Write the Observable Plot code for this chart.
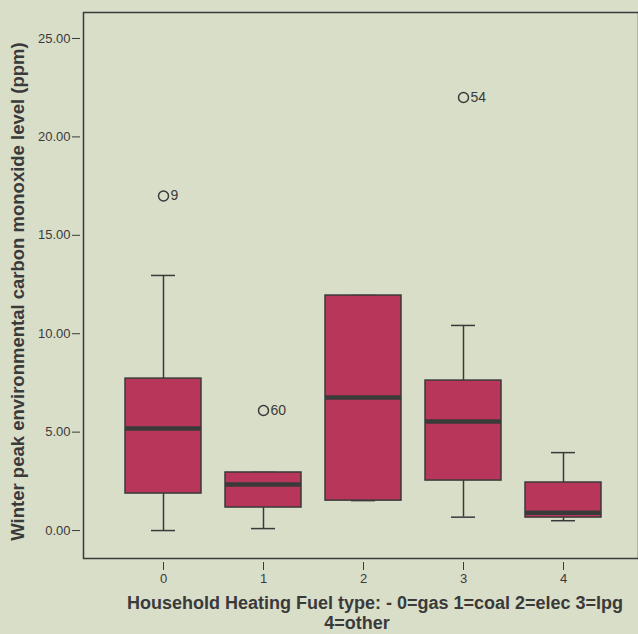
<!DOCTYPE html>
<html>
<head>
<meta charset="utf-8">
<script src="https://cdn.jsdelivr.net/npm/d3@7"></script>
<script src="https://cdn.jsdelivr.net/npm/@observablehq/plot@0.6"></script>
<style>
  html, body { margin: 0; padding: 0; background: #d9dec9; }
  #chart { width: 638px; height: 634px; }
</style>
</head>
<body>
<div id="chart"></div>
<script>
const categories = ["0", "1", "2", "3", "4"];
const whiskerLow  = [0.00, 0.10, 1.52, 0.68, 0.50];
const q1          = [1.88, 1.17, 1.52, 2.54, 0.66];
const medians     = [5.18, 2.34, 6.76, 5.54, 0.91];
const q3          = [7.72, 2.95, 11.94, 7.62, 2.44];
const whiskerHigh = [12.96, 2.95, 11.94, 10.42, 3.96];

const outlierCats   = ["0", "1", "3"];
const outlierValues = [17.0, 6.1, 22.0];
const outlierLabels = ["9", "60", "54"];

const yTicks = [0, 5, 10, 15, 20, 25];
const xTitle1 = "Household Heating Fuel type: - 0=gas 1=coal 2=elec 3=lpg";
const xTitle2 = "4=other";
const yTitle = "Winter peak environmental carbon monoxide level (ppm)";

const boxes = categories.map((c, i) => ({
  cat: c, lo: whiskerLow[i], q1: q1[i], med: medians[i], q3: q3[i], hi: whiskerHigh[i]
}));
const outliers = outlierCats.map((c, i) => ({cat: c, value: outlierValues[i], label: outlierLabels[i]}));

const ink = "#3a3a3a";
const font = "Arial, 'Liberation Sans', sans-serif";

const chart = Plot.plot({
  width: 638,
  height: 634,
  marginLeft: 83,
  marginRight: 0,
  marginTop: 12,
  marginBottom: 76,
  style: {background: "#d9dec9", fontFamily: font, color: ink},
  x: {domain: categories, paddingInner: 0.236, paddingOuter: 0.372, align: 0.53, axis: null},
  y: {domain: [-1.42, 26.32], axis: null},
  marks: [
    Plot.frame({stroke: ink, strokeWidth: 1.5}),
    Plot.axisY({ticks: yTicks, tickFormat: d3.format(".2f"), tickSize: 8, dx: -3, tickPadding: 2,
      fontSize: 13, stroke: ink, fill: ink, label: null}),
    Plot.axisX({tickSize: 8, dy: 4, tickPadding: 3, fontSize: 13, stroke: ink, fill: ink, label: null}),
    Plot.ruleX(boxes, {x: "cat", y1: "lo", y2: "q1", stroke: ink, strokeWidth: 1.5}),
    Plot.ruleX(boxes, {x: "cat", y1: "q3", y2: "hi", stroke: ink, strokeWidth: 1.5}),
    Plot.tickY(boxes, {x: "cat", y: "lo", insetLeft: 26, insetRight: 26, stroke: ink, strokeWidth: 1.5}),
    Plot.tickY(boxes, {x: "cat", y: "hi", insetLeft: 26, insetRight: 26, stroke: ink, strokeWidth: 1.5}),
    Plot.barY(boxes, {x: "cat", y1: "q1", y2: "q3", fill: "#b8365a", stroke: ink, strokeWidth: 1.5}),
    Plot.tickY(boxes, {x: "cat", y: "med", stroke: ink, strokeWidth: 4.5}),
    Plot.dot(outliers, {x: "cat", y: "value", r: 5, stroke: ink, strokeWidth: 1.5, fill: "none"}),
    Plot.text(outliers, {x: "cat", y: "value", text: "label", dx: 7, textAnchor: "start",
      fontSize: 14, fill: ink}),
    Plot.text([xTitle1], {frameAnchor: "bottom", dx: 14, dy: 50, fontSize: 18, fontWeight: "bold",
      fill: ink, text: d => d}),
    Plot.text([xTitle2], {frameAnchor: "bottom", dx: -4, dy: 70.5, fontSize: 18, fontWeight: "bold",
      fill: ink, text: d => d}),
    Plot.text([yTitle], {frameAnchor: "left", dx: -65, dy: 6, rotate: -90, textAnchor: "middle",
      fontSize: 18.5, fontWeight: "bold", fill: ink, text: d => d})
  ]
});
document.getElementById("chart").appendChild(chart);
</script>
</body>
</html>
